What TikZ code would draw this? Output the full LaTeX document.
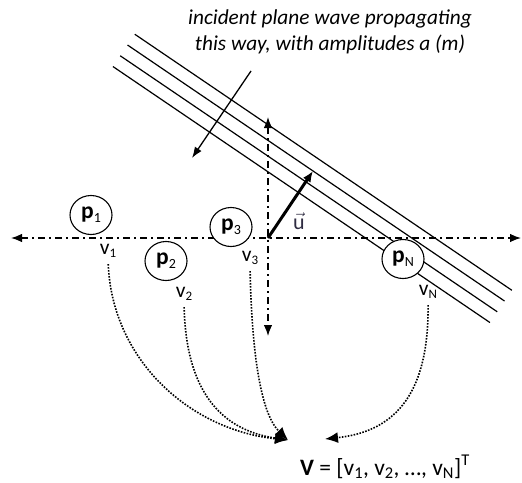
\documentclass[tikz,border=0pt]{standalone}
\usepackage{fontspec}
\setmainfont{Carlito}
\definecolor{UInk}{HTML}{2F2C42}
\usetikzlibrary{arrows.meta,calc,shapes.geometric}
\newcommand{\idx}[2][13]{\raisebox{-3.5pt}{\fontsize{#1}{#1}\selectfont #2}}

\begin{document}
\begin{tikzpicture}[x=1pt,y=-1pt,
      sensor/.style={draw,ellipse,fill=white,line width=1.1pt,minimum width=42pt,
                     minimum height=39pt,inner sep=0pt,font=\fontsize{23.5}{25}\selectfont},
      val/.style={inner sep=0pt,font=\fontsize{21.5}{23}\selectfont},
      axis/.style={{Latex[length=11pt,width=8.5pt]}-{Latex[length=11pt,width=8.5pt]},line width=1.3pt,
                   dash pattern=on 7pt off 4pt on 2pt off 4pt},
      wave/.style={line width=1.2pt},
      gather/.style={-{Latex[length=13pt,width=11pt]},line width=1.6pt,
                     dash pattern=on 1.6pt off 1.4pt,shorten <=6pt}]
    \useasboundingbox (0,0) rectangle (522,482);
    \coordinate (o) at (268,238);
    \coordinate (xl) at (11,238);
    \coordinate (xr) at (521,238);
    \coordinate (yt) at (268,117);
    \coordinate (yb) at (268,336);
    \coordinate (utip) at (313,171);
    \coordinate (w1) at (251,71);
    \coordinate (w2) at (192,158);
    \coordinate (in1) at (288,440);
    \coordinate (inN) at (325,439);
    \draw[axis] (xl) -- (xr);
    \draw[axis] (yt) -- (yb);
    \foreach \k in {55,68,81,94}
      \draw[wave] ($(o)+({0.562*\k-186},{-0.827*\k-126})$) -- ($(o)+({0.562*\k+191},{-0.827*\k+130})$);
    \draw[-{Latex[length=11pt,width=9pt]},line width=3pt] (o) -- (utip);
    \draw[-{Latex[length=11pt,width=8pt]},line width=1.3pt] (w1) -- (w2);
    \node[font=\fontsize{21.3}{26}\selectfont\itshape,align=center,inner sep=0pt] (title) at (330,32)
      {incident plane wave propagating\\this way, with amplitudes a (m)};
    \node[text=UInk,font=\fontsize{22}{24}\selectfont,inner sep=0pt] (ulab) at (299,221) {$\vec{\mathrm{u}}$};
    \node[sensor] (p1) at (91,215) {\textbf{p}\idx[14]{1}};
    \node[sensor] (p2) at (166,261) {\textbf{p}\idx[14]{2}};
    \node[sensor] (p3) at (231,227) {\textbf{p}\idx[14]{3}};
    \node[sensor] (pN) at (403,259) {\textbf{p}\idx[14]{N}};
    \node[val] (v1) at (108,251) {v\idx{1}};
    \node[val] (v2) at (184,294) {v\idx{2}};
    \node[val] (v3) at (250,258) {v\idx{3}};
    \node[val] (vN) at (428,292) {v\idx{N}};
    \node[font=\fontsize{23.5}{26}\selectfont,anchor=base,inner sep=0pt] (vec) at (385,475)
      {\textbf{V} = [v\textsubscript{1}, v\textsubscript{2}, …, v\textsubscript{N}]\textsuperscript{T}};
    \draw[gather] (v1.south) .. controls (112,360) and (190,430) .. (in1);
    \draw[gather] (v2.south) .. controls (186,390) and (220,430) .. (in1);
    \draw[gather] (v3.south) .. controls (252,360) and (262,415) .. (in1);
    \draw[gather] (vN.south) .. controls (429,400) and (390,432) .. (inN);
  \end{tikzpicture}
\end{document}
